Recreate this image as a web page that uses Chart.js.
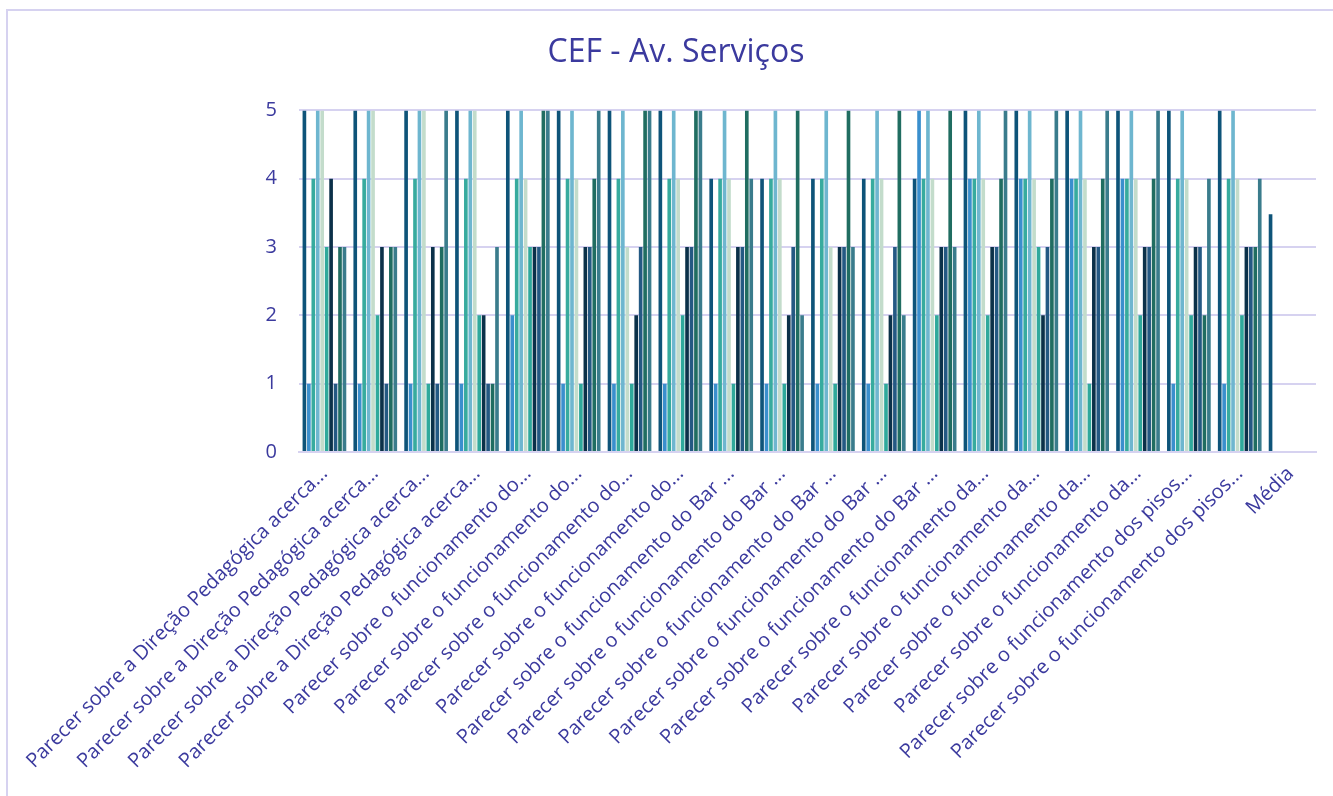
<!DOCTYPE html>
<html>
<head>
<meta charset="utf-8">
<title>CEF - Av. Serviços</title>
<script src="https://cdn.jsdelivr.net/npm/chart.js@4"></script>
<style>
  html, body { margin: 0; padding: 0; background: #fff; overflow: hidden; }
  #frame {
    position: absolute; left: 6px; top: 9px; width: 1400px; height: 900px;
    border-left: 2px solid #d6d2f0; border-top: 2px solid #d6d2f0;
  }
  canvas { position: absolute; left: 0; top: 0; }
</style>
</head>
<body>
<div id="frame"></div>
<canvas id="chart" width="1333" height="796"></canvas>
<script>
/* ---------- données ---------- */
const dirPed = "Parecer sobre a Direção Pedagógica acerca...";
const funcDo = "Parecer sobre o funcionamento do...";
const funcBar = "Parecer sobre o funcionamento do Bar ...";
const funcDa = "Parecer sobre o funcionamento da...";
const funcPisos = "Parecer sobre o funcionamento dos pisos...";

const categories = [
  dirPed, dirPed, dirPed, dirPed,
  funcDo, funcDo, funcDo, funcDo,
  funcBar, funcBar, funcBar, funcBar, funcBar,
  funcDa, funcDa, funcDa, funcDa,
  funcPisos, funcPisos,
  "Média"
];

// une série par répondant (10), la dernière catégorie = média
const serie1  = [5, 5, 5, 5, 5, 5, 5, 5, 4, 4, 4, 4, 4, 5, 5, 5, 5, 5, 5, 3.48];
const serie2  = [1, 1, 1, 1, 2, 1, 1, 1, 1, 1, 1, 1, 5, 4, 4, 4, 4, 1, 1, null];
const serie3  = [4, 4, 4, 4, 4, 4, 4, 4, 4, 4, 4, 4, 4, 4, 4, 4, 4, 4, 4, null];
const serie4  = [5, 5, 5, 5, 5, 5, 5, 5, 5, 5, 5, 5, 5, 5, 5, 5, 5, 5, 5, null];
const serie5  = [5, 5, 5, 5, 4, 4, 3, 4, 4, 4, 3, 4, 4, 4, 4, 4, 4, 4, 4, null];
const serie6  = [3, 2, 1, 2, 3, 1, 1, 2, 1, 1, 1, 1, 2, 2, 3, 1, 2, 2, 2, null];
const serie7  = [4, 3, 3, 2, 3, 3, 2, 3, 3, 2, 3, 2, 3, 3, 2, 3, 3, 3, 3, null];
const serie8  = [1, 1, 1, 1, 3, 3, 3, 3, 3, 3, 3, 3, 3, 3, 3, 3, 3, 3, 3, null];
const serie9  = [3, 3, 3, 1, 5, 4, 5, 5, 5, 5, 5, 5, 5, 4, 4, 4, 4, 2, 3, null];
const serie10 = [3, 3, 5, 3, 5, 5, 5, 5, 4, 2, 3, 2, 3, 5, 5, 5, 5, 4, 4, null];

const yTicks = [0, 1, 2, 3, 4, 5];

const series = [serie1, serie2, serie3, serie4, serie5, serie6, serie7, serie8, serie9, serie10];
const colors = [
  "#0e5479", "#3a8fcd", "#37ab9e", "#6eb6cf", "#c3dccb",
  "#2fa99b", "#0b3149", "#245983", "#206d61", "#3a7c8c"
];

/* ---------- graphique ---------- */
const textColor = "#3b3a9e";
const font = "'Open Sans', 'Noto Sans', sans-serif";

const ctx = document.getElementById("chart").getContext("2d");
new Chart(ctx, {
  type: "bar",
  data: {
    labels: categories,
    datasets: series.map((s, i) => ({
      label: "Série " + (i + 1),
      data: s,
      backgroundColor: colors[i],
      borderWidth: 0,
      categoryPercentage: 0.875,
      barPercentage: 0.82
    }))
  },
  options: {
    responsive: false,
    animation: false,
    layout: { padding: { left: 36, right: 17, top: 0, bottom: 0 } },
    plugins: {
      legend: { display: false },
      tooltip: { enabled: false },
      title: {
        display: true,
        text: "CEF - Av. Serviços",
        color: textColor,
        font: { family: font, size: 32, weight: "normal" },
        padding: { top: 34, bottom: 38 }
      }
    },
    scales: {
      y: {
        min: 0,
        max: 5,
        afterFit: s => { s.width = 263; },
        afterBuildTicks: s => { s.ticks = yTicks.map(v => ({ value: v })); },
        ticks: {
          color: textColor,
          padding: 22,
          font: { family: font, size: 20 }
        },
        grid: { color: "#d6d2f0", lineWidth: 2, drawTicks: false },
        border: { display: false }
      },
      x: {
        afterFit: s => { s.height = 344; },
        ticks: {
          color: textColor,
          autoSkip: false,
          minRotation: 45,
          maxRotation: 45,
          padding: 10,
          font: { family: font, size: 20 }
        },
        grid: { display: false, drawTicks: false },
        border: { display: true, color: "#d6d2f0", width: 2 }
      }
    }
  }
});
</script>
</body>
</html>
